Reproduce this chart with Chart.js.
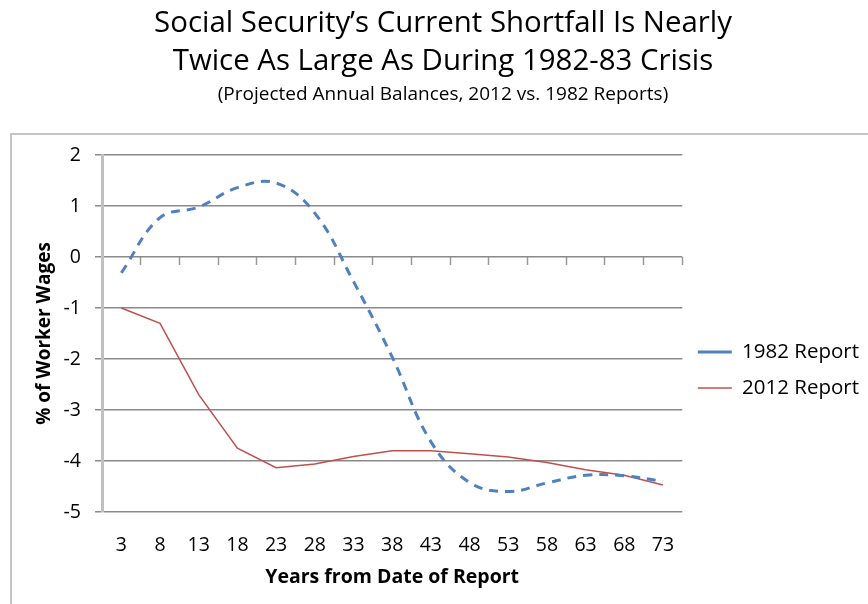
<!DOCTYPE html>
<html>
<head>
<meta charset="utf-8">
<script src="https://cdn.jsdelivr.net/npm/chart.js@4/dist/chart.umd.min.js"></script>
<style>
  html, body { margin: 0; padding: 0; background: #ffffff; }
  #wrap { position: relative; width: 868px; height: 604px; overflow: hidden; }
  #frame { position: absolute; left: 10px; top: 133px; width: 900px; height: 520px; border: 2px solid #c4c4c4; box-sizing: border-box; }
  #c { position: absolute; left: 0; top: 0; }
</style>
</head>
<body>
<div id="wrap">
  <div id="frame"></div>
  <canvas id="c" width="868" height="604"></canvas>
</div>
<script>
const categories = ['3','8','13','18','23','28','33','38','43','48','53','58','63','68','73'];
const report1982 = [-0.31, 0.77, 0.98, 1.36, 1.45, 0.86, -0.48, -1.96, -3.62, -4.42, -4.6, -4.43, -4.28, -4.29, -4.4];
const report2012 = [-1.0, -1.3, -2.7, -3.75, -4.13, -4.06, -3.91, -3.8, -3.8, -3.86, -3.92, -4.03, -4.17, -4.28, -4.47];
const seriesNames = ['1982 Report', '2012 Report'];
const titleLines = ['Social Security\u2019s Current Shortfall Is Nearly', 'Twice As Large As During 1982-83 Crisis'];
const subtitleText = '(Projected Annual Balances, 2012 vs. 1982 Reports)';
const yTitle = '% of Worker Wages';
const xTitle = 'Years from Date of Report';
const yMin = -5, yMax = 2, yStep = 1;

const FONT = "'Open Sans', sans-serif";
Chart.defaults.font.family = FONT;
Chart.defaults.color = '#000';

const GRID = '#8a8a8a';

new Chart(document.getElementById('c'), {
  type: 'line',
  data: {
    labels: categories,
    datasets: [
      {
        label: seriesNames[0],
        data: report1982,
        borderColor: '#4F81BD',
        backgroundColor: '#4F81BD',
        borderWidth: 3,
        borderDash: [9, 7],
        tension: 0.4,
        pointRadius: 0,
        fill: false,
        xAxisID: 'x', yAxisID: 'y'
      },
      {
        label: seriesNames[1],
        data: report2012,
        borderColor: '#C0504D',
        backgroundColor: '#C0504D',
        borderWidth: 1.5,
        tension: 0,
        pointRadius: 0,
        fill: false,
        xAxisID: 'x', yAxisID: 'y'
      }
    ]
  },
  options: {
    responsive: false,
    animation: false,
    devicePixelRatio: 1,
    layout: { padding: { left: 17, right: -1, top: 0, bottom: 0 } },
    plugins: {
      title: {
        display: true,
        text: titleLines,
        color: '#000',
        font: { family: FONT, size: 29.4, weight: 'normal', lineHeight: 38 / 29.4 },
        padding: { top: 5, bottom: 0 }
      },
      subtitle: {
        display: true,
        text: subtitleText,
        color: '#000',
        font: { family: FONT, size: 19, weight: 'normal', lineHeight: 1.2 },
        padding: { top: 2.6, bottom: 48.6 }
      },
      legend: {
        display: true,
        position: 'right',
        align: 'start',
        title: { display: true, text: ' ', font: { size: 10, lineHeight: 1 }, padding: { top: 316.25, bottom: 0 } },
        labels: {
          usePointStyle: true,
          pointStyle: 'line',
          pointStyleWidth: 34,
          font: { family: FONT, size: 20.5 },
          color: '#000',
          padding: 15.5
        }
      },
      tooltip: { enabled: false }
    },
    scales: {
      x: {
        type: 'category',
        position: 'bottom',
        offset: true,
        grid: { display: false, drawTicks: false },
        border: { display: false },
        ticks: { font: { family: FONT, size: 19.5 }, color: '#000', padding: 21.3, maxRotation: 0, autoSkip: false },
        title: { display: true, text: xTitle, color: '#000', font: { family: FONT, size: 19.5, weight: 'bold' }, padding: { top: 0, bottom: 15.3 } },
        afterFit: (s) => { s.height = 92; }
      },
      x2: {
        type: 'category',
        position: { y: 0 },
        offset: true,
        grid: { offset: true, drawOnChartArea: false, drawTicks: true, tickLength: 8, tickColor: '#9a9a9a', tickWidth: 1.5 },
        border: { display: false },
        ticks: { display: false }
      },
      y: {
        type: 'linear',
        position: 'left',
        min: yMin,
        max: yMax,
        ticks: { stepSize: yStep, font: { family: FONT, size: 19.5 }, color: '#000', padding: 14 },
        grid: { color: GRID, lineWidth: 1.5, tickLength: 7, tickColor: GRID },
        border: { display: true, color: '#c0c0c0', width: 3 },
        title: { display: true, text: yTitle, color: '#000', font: { family: FONT, size: 19, weight: 'bold' }, padding: { top: 16, bottom: 0 } },
        afterFit: (s) => { s.width = 85; }
      }
    }
  }
});
</script>
</body>
</html>
